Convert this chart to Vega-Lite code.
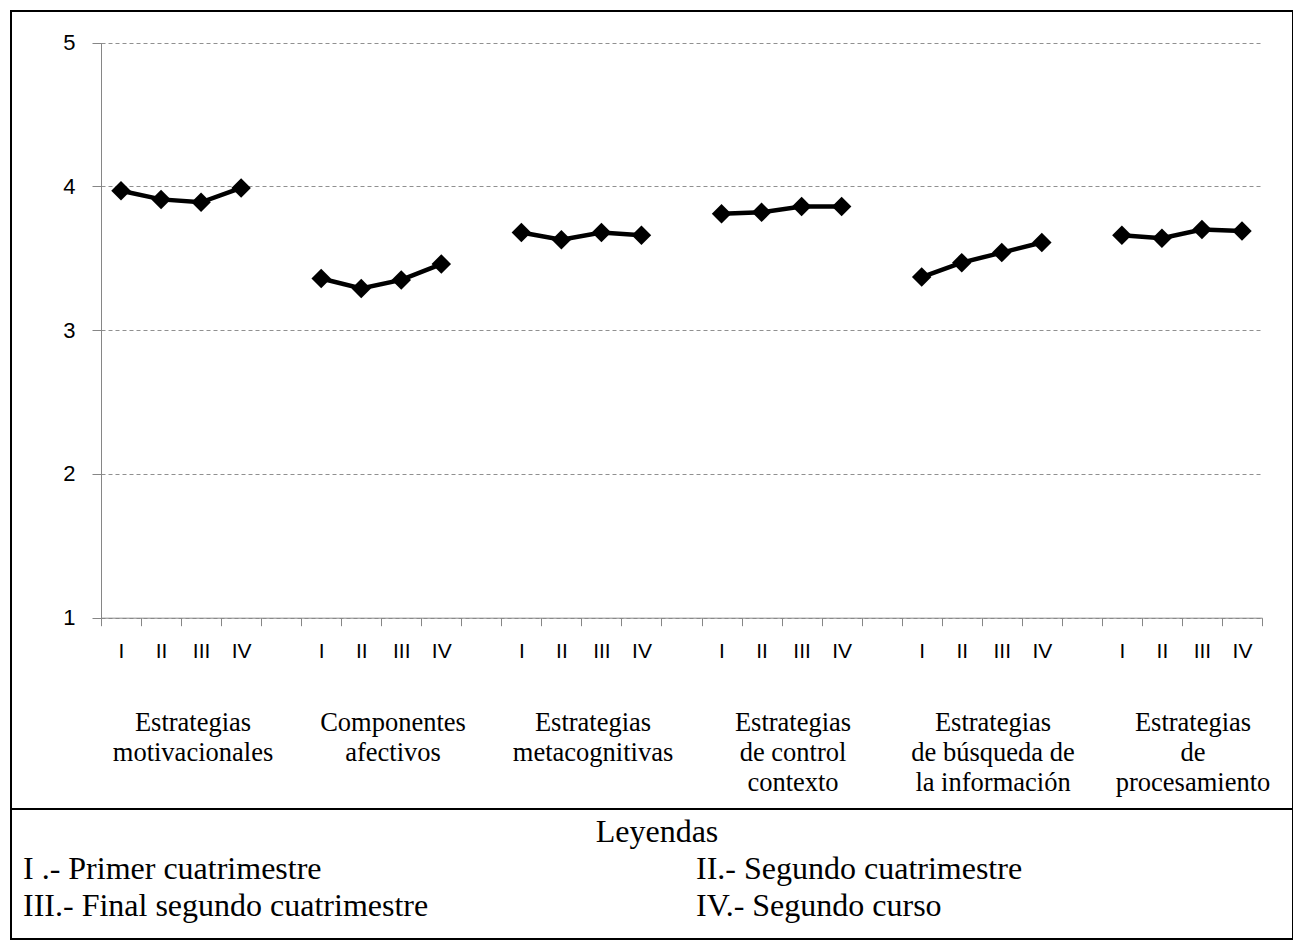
{
  "$schema": "https://vega.github.io/schema/vega-lite/v6.json",
  "padding": {"left": 10, "top": 10, "right": 0, "bottom": 0},
  "bounds": "flush",
  "spacing": 0,
  "background": "white",
  "config": {"view": {"stroke": "black", "strokeWidth": 2}},
  "vconcat": [
    {
      "width": 1282,
      "height": 798,
      "data": {"values": [
        {"grupo": "Estrategias|motivacionales|", "clave": "1|I", "valor": 3.97},
        {"grupo": "Estrategias|motivacionales|", "clave": "1|II", "valor": 3.91},
        {"grupo": "Estrategias|motivacionales|", "clave": "1|III", "valor": 3.89},
        {"grupo": "Estrategias|motivacionales|", "clave": "1|IV", "valor": 3.99},
        {"grupo": "Componentes|afectivos|", "clave": "2|I", "valor": 3.36},
        {"grupo": "Componentes|afectivos|", "clave": "2|II", "valor": 3.29},
        {"grupo": "Componentes|afectivos|", "clave": "2|III", "valor": 3.35},
        {"grupo": "Componentes|afectivos|", "clave": "2|IV", "valor": 3.46},
        {"grupo": "Estrategias|metacognitivas", "clave": "3|I", "valor": 3.68},
        {"grupo": "Estrategias|metacognitivas", "clave": "3|II", "valor": 3.63},
        {"grupo": "Estrategias|metacognitivas", "clave": "3|III", "valor": 3.68},
        {"grupo": "Estrategias|metacognitivas", "clave": "3|IV", "valor": 3.66},
        {"grupo": "Estrategias|de control|contexto", "clave": "4|I", "valor": 3.81},
        {"grupo": "Estrategias|de control|contexto", "clave": "4|II", "valor": 3.82},
        {"grupo": "Estrategias|de control|contexto", "clave": "4|III", "valor": 3.86},
        {"grupo": "Estrategias|de control|contexto", "clave": "4|IV", "valor": 3.86},
        {"grupo": "Estrategias|de búsqueda de|la información", "clave": "5|I", "valor": 3.37},
        {"grupo": "Estrategias|de búsqueda de|la información", "clave": "5|II", "valor": 3.47},
        {"grupo": "Estrategias|de búsqueda de|la información", "clave": "5|III", "valor": 3.54},
        {"grupo": "Estrategias|de búsqueda de|la información", "clave": "5|IV", "valor": 3.61},
        {"grupo": "Estrategias|de|procesamiento", "clave": "6|I", "valor": 3.66},
        {"grupo": "Estrategias|de|procesamiento", "clave": "6|II", "valor": 3.64},
        {"grupo": "Estrategias|de|procesamiento", "clave": "6|III", "valor": 3.70},
        {"grupo": "Estrategias|de|procesamiento", "clave": "6|IV", "valor": 3.69}
      ]},
      "layer": [
        {
          "layer": [
            {
              "mark": {"type": "line", "color": "black", "strokeWidth": 4.5},
              "encoding": {
                "x": {
                  "field": "clave", "type": "nominal", "bandPosition": 0.5,
                  "scale": {
                    "type": "band",
                    "domain": ["1|I","1|II","1|III","1|IV","1|","2|I","2|II","2|III","2|IV","2|","3|I","3|II","3|III","3|IV","3|","4|I","4|II","4|III","4|IV","4|","5|I","5|II","5|III","5|IV","5|","6|I","6|II","6|III","6|IV"],
                    "range": [90, 1251],
                    "paddingInner": 0, "paddingOuter": 0
                  },
                  "axis": {
                    "orient": "bottom", "offset": -191.3, "title": null,
                    "tickBand": "extent", "ticks": true, "tickSize": 8,
                    "tickColor": "#868686", "domainColor": "#868686", "grid": false,
                    "labelExpr": "split(datum.label, '|')[1]",
                    "labelAngle": 0, "labelFont": "Liberation Sans", "labelFontSize": 21,
                    "labelColor": "black", "labelPadding": 15, "labelOverlap": false
                  }
                },
                "y": {
                  "field": "valor", "type": "quantitative",
                  "scale": {"domain": [1, 5], "range": [606.7, 31.7], "nice": false, "zero": false},
                  "axis": {
                    "orient": "left", "offset": -90, "title": null,
                    "values": [1, 2, 3, 4, 5], "format": "d",
                    "grid": true, "gridDash": [4, 3], "gridColor": "#909090",
                    "domainColor": "#868686", "tickColor": "#868686", "tickSize": 9,
                    "labelPadding": 17, "labelFont": "Liberation Sans", "labelFontSize": 22,
                    "labelColor": "black"
                  }
                },
                "detail": {"field": "grupo"}
              }
            },
            {
              "mark": {"type": "point", "shape": "diamond", "filled": true, "color": "black", "size": 380, "opacity": 1},
              "encoding": {
                "x": {"field": "clave", "type": "nominal", "bandPosition": 0.5},
                "y": {"field": "valor", "type": "quantitative"}
              }
            }
          ]
        },
        {
          "mark": {"type": "point", "opacity": 0},
          "encoding": {
            "x": {
              "field": "grupo", "type": "nominal",
              "scale": {
                "type": "band",
                "domain": ["Estrategias|motivacionales|", "Componentes|afectivos|", "Estrategias|metacognitivas", "Estrategias|de control|contexto", "Estrategias|de búsqueda de|la información", "Estrategias|de|procesamiento"],
                "range": [82, 1282],
                "paddingInner": 0, "paddingOuter": 0
              },
              "axis": {
                "orient": "bottom", "offset": -87, "title": null,
                "ticks": false, "tickSize": 0, "domain": false, "grid": false,
                "labelExpr": "split(datum.label, '|')",
                "labelAngle": 0, "labelBaseline": "middle", "labelLineHeight": 30,
                "labelFont": "Liberation Serif", "labelFontSize": 26.5, "labelColor": "black",
                "labelPadding": 0, "labelLimit": 0, "labelOverlap": false
              }
            }
          }
        }
      ],
      "resolve": {"scale": {"x": "independent"}, "axis": {"x": "independent"}}
    },
    {
      "width": 1282,
      "height": 130,
      "data": {"values": [
        {"texto": "Leyendas", "columna": "centro", "fila": 1},
        {"texto": "I .- Primer cuatrimestre", "columna": "izq", "fila": 2},
        {"texto": "II.- Segundo cuatrimestre", "columna": "der", "fila": 2},
        {"texto": "III.- Final segundo cuatrimestre", "columna": "izq", "fila": 3},
        {"texto": "IV.- Segundo curso", "columna": "der", "fila": 3}
      ]},
      "layer": [
        {
          "transform": [{"filter": "datum.columna == 'centro'"}],
          "mark": {"type": "text", "font": "Liberation Serif", "fontSize": 32, "align": "center", "baseline": "middle", "color": "black", "dx": 5},
          "encoding": {
            "text": {"field": "texto"},
            "y": {"field": "fila", "type": "ordinal", "scale": {"type": "point", "domain": [1, 2, 3], "range": [23, 97], "padding": 0}, "axis": null}
          }
        },
        {
          "transform": [{"filter": "datum.columna != 'centro'"}],
          "mark": {"type": "text", "font": "Liberation Serif", "fontSize": 32, "align": "left", "baseline": "middle", "color": "black"},
          "encoding": {
            "text": {"field": "texto"},
            "x": {"field": "columna", "type": "nominal", "scale": {"type": "point", "domain": ["izq", "der"], "range": [12, 685], "padding": 0}, "axis": null},
            "y": {"field": "fila", "type": "ordinal", "axis": null}
          }
        }
      ]
    }
  ]
}
